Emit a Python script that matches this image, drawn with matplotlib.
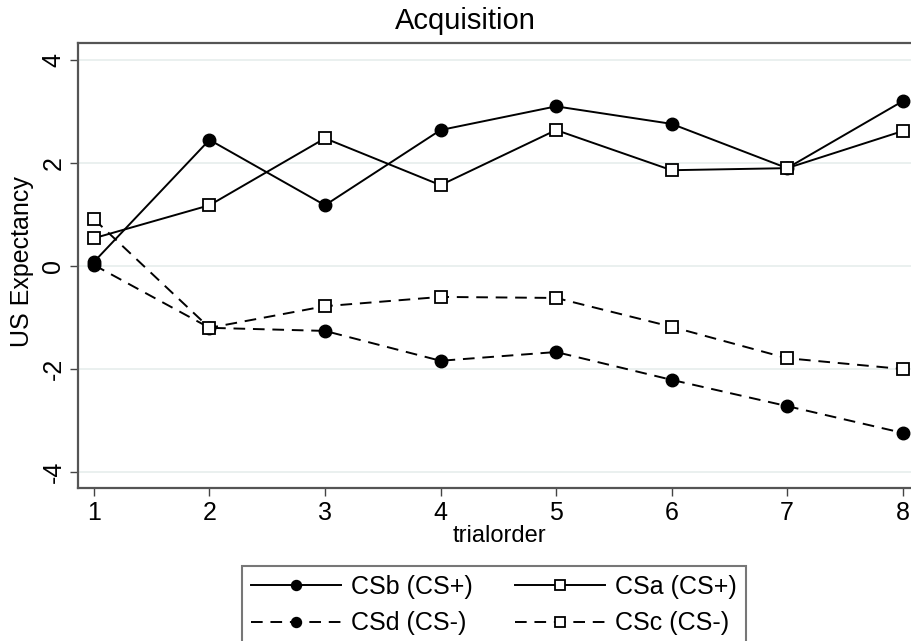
import numpy as np
import matplotlib
matplotlib.use("Agg")
import matplotlib.pyplot as plt

plt.rcParams['font.family'] = ['Liberation Sans', 'DejaVu Sans']
plt.rcParams['axes.unicode_minus'] = False

# data
trials = [1, 2, 3, 4, 5, 6, 7, 8]
csb = [0.08, 2.45, 1.18, 2.64, 3.10, 2.76, 1.90, 3.20]
csa = [0.54, 1.18, 2.48, 1.57, 2.64, 1.86, 1.90, 2.62]
csd = [0.02, -1.20, -1.26, -1.84, -1.67, -2.21, -2.72, -3.24]
csc = [0.91, -1.20, -0.78, -0.60, -0.62, -1.18, -1.79, -2.00]
yticks = [-4, -2, 0, 2, 4]

fig = plt.figure(figsize=(9.12, 6.41), dpi=100)
ax = fig.add_axes([78 / 912, 153 / 641, 842 / 912, 445 / 641])

for y in yticks:
    ax.axhline(y, color='#e6eeec', lw=1.2, zorder=0)

ax.plot(trials, csb, color='black', lw=1.4, ls='-', marker='o', ms=9,
        mfc='black', mec='black', label='CSb (CS+)', clip_on=False)
ax.plot(trials, csa, color='black', lw=1.4, ls='-', marker='s', ms=9,
        mfc='white', mec='black', mew=1.3, label='CSa (CS+)', clip_on=False)
ax.plot(trials, csd, color='black', lw=1.4, ls=(0, (6, 4)), marker='o', ms=9,
        mfc='black', mec='black', label='CSd (CS-)', clip_on=False)
ax.plot(trials, csc, color='black', lw=1.4, ls=(0, (6, 4)), marker='s', ms=9,
        mfc='white', mec='black', mew=1.3, label='CSc (CS-)', clip_on=False)

ax.set_xlim(0.862, 8.15)
ax.set_ylim(-4.31, 4.33)
ax.set_xticks(trials)
ax.set_yticks(yticks)
ax.set_yticklabels([str(v) for v in yticks])
ax.tick_params(axis='both', direction='out', length=6, width=1, color='#444444',
               labelsize=18, pad=3)
ax.tick_params(axis='y', labelrotation=90)
for lab in ax.get_yticklabels():
    lab.set_va('center')
for s in ax.spines.values():
    s.set_color('#555555')
    s.set_linewidth(1.6)

ax.set_xlabel('trialorder', fontsize=17, labelpad=0)
fig.text(22 / 912, 1 - 262 / 641, 'US Expectancy', rotation=90, fontsize=18,
         ha='center', va='center')
fig.text(465 / 912, 1 - 21 / 641, 'Acquisition', fontsize=21, ha='center', va='center')

h, l = ax.get_legend_handles_labels()
order = [0, 2, 1, 3]
leg = fig.legend([h[i] for i in order], [l[i] for i in order], ncol=2,
                 loc='upper center', bbox_to_anchor=(494 / 912, 1 - 566 / 641),
                 fontsize=18, frameon=True, fancybox=False, edgecolor='#555555',
                 handlelength=3.6, handletextpad=0.4, columnspacing=1.7,
                 markerscale=0.8, borderaxespad=0, labelspacing=0.5,
                 borderpad=0.35)
leg.get_frame().set_linewidth(1.5)

fig.savefig('out.png', dpi=100)
